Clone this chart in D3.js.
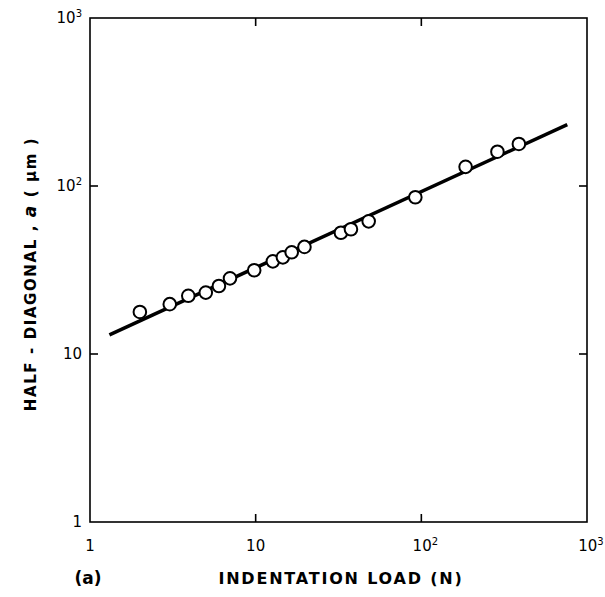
<!DOCTYPE html>
<html><head><meta charset="utf-8">
<script src="https://cdn.jsdelivr.net/npm/d3@7"></script>
<style>body{margin:0;background:#fff}</style>
</head><body>
<svg id="c" width="605" height="597"></svg>
<script>
const loadN = [2.0, 3.03, 3.92, 5.0, 6.0, 7.0, 9.8, 12.7, 14.6, 16.5, 19.7, 32.7, 37.6, 48.1, 92, 185, 288, 388];
const halfDiag = [17.8, 19.8, 22.2, 23.2, 25.4, 28.2, 31.5, 35.6, 37.6, 40.3, 43.4, 52.7, 55.3, 61.6, 85.7, 130, 160, 178];
const fitLoad = [1.31, 760];
const fitDiag = [13.0, 232];
const tickVals = [1, 10, 100, 1000];
const tickExp = ["", "", "2", "3"];

const svg = d3.select("#c");
const L = 90, R = 587, T = 18, B = 522;
const x = d3.scaleLog().domain([1, 1000]).range([L, R]);
const y = d3.scaleLog().domain([1, 1000]).range([B, T]);
const font = "'DejaVu Sans', sans-serif";

// frame
svg.append("rect").attr("x", L).attr("y", T).attr("width", R - L).attr("height", B - T)
  .attr("fill", "none").attr("stroke", "#000").attr("stroke-width", 1.6);

// inner ticks on all sides
const inner = [10, 100];
const tl = 8;
inner.forEach(v => {
  svg.append("line").attr("x1", x(v)).attr("x2", x(v)).attr("y1", B).attr("y2", B - tl).attr("stroke", "#000").attr("stroke-width", 1.6);
  svg.append("line").attr("x1", x(v)).attr("x2", x(v)).attr("y1", T).attr("y2", T + tl).attr("stroke", "#000").attr("stroke-width", 1.6);
  svg.append("line").attr("y1", y(v)).attr("y2", y(v)).attr("x1", L).attr("x2", L + tl).attr("stroke", "#000").attr("stroke-width", 1.6);
  svg.append("line").attr("y1", y(v)).attr("y2", y(v)).attr("x1", R).attr("x2", R - tl).attr("stroke", "#000").attr("stroke-width", 1.6);
});

function label(g, base, exp, anchor) {
  const t = g.append("text").attr("font-family", font).attr("font-size", 15).attr("text-anchor", anchor).attr("fill", "#000");
  t.append("tspan").text(base);
  if (exp) t.append("tspan").attr("dy", -6).attr("font-size", 10).text(exp);
  return t;
}
tickVals.forEach((v, i) => {
  const base = v === 1 ? "1" : "10";
  label(svg, base, tickExp[i], "middle").attr("x", x(v) + (tickExp[i] ? 4 : 0)).attr("y", 551);
  label(svg, base, tickExp[i], "end").attr("x", L - 8).attr("y", y(v) + 5);
});

// fit line
const line = d3.line().x((d, i) => x(fitLoad[i])).y((d, i) => y(fitDiag[i]));
svg.append("path").datum(fitLoad).attr("d", line).attr("fill", "none").attr("stroke", "#000").attr("stroke-width", 3.5);

// points
svg.selectAll("circle.pt").data(loadN).enter().append("circle")
  .attr("cx", d => x(d)).attr("cy", (d, i) => y(halfDiag[i])).attr("r", 6.3)
  .attr("fill", "#fff").attr("stroke", "#000").attr("stroke-width", 2);

// axis titles
svg.append("text").attr("x", 341).attr("y", 584).attr("text-anchor", "middle")
  .attr("font-family", font).attr("font-size", 16).attr("font-weight", "bold").attr("letter-spacing", 1.8)
  .text("INDENTATION LOAD (N)");
svg.append("text").attr("x", 88).attr("y", 584).attr("text-anchor", "middle")
  .attr("font-family", font).attr("font-size", 17).attr("font-weight", "bold").text("(a)");
const yl = svg.append("text").attr("transform", "translate(36,274) rotate(-90)").attr("text-anchor", "middle")
  .attr("font-family", font).attr("font-size", 15).attr("font-weight", "bold").attr("letter-spacing", 1.6);
yl.append("tspan").text("HALF - DIAGONAL , ");
yl.append("tspan").attr("font-style", "italic").attr("font-size", 17).text("a");
yl.append("tspan").text(" ( μm )");
</script>
</body></html>
